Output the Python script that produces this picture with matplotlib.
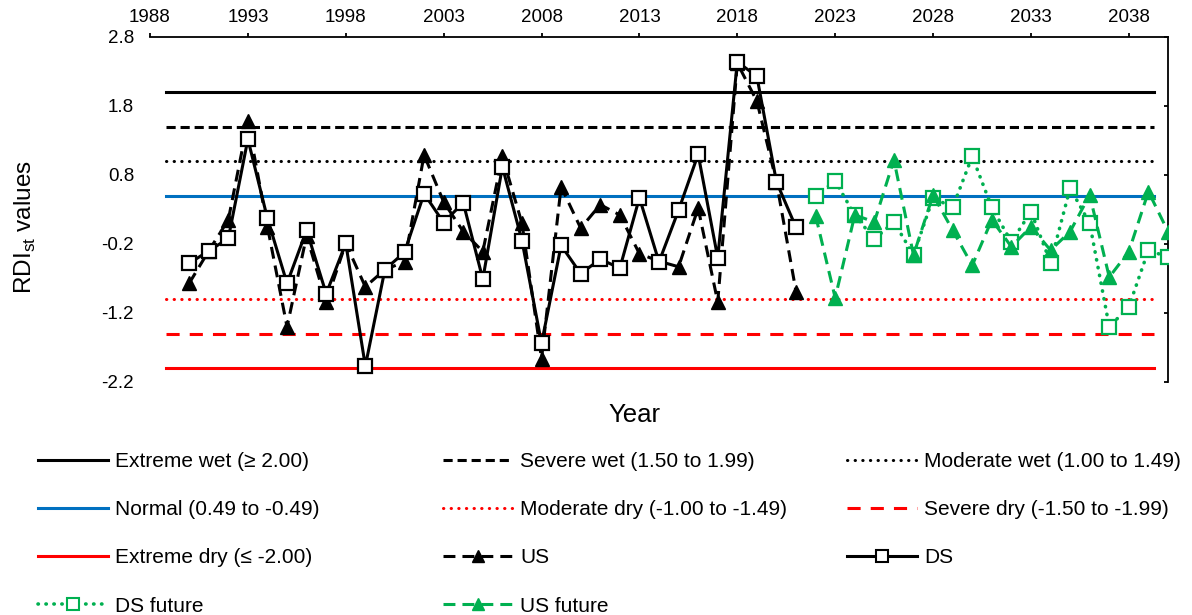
import matplotlib
matplotlib.use("Agg")
import matplotlib.pyplot as plt
from matplotlib.lines import Line2D

plt.rcParams['font.family'] = ['Liberation Sans', 'DejaVu Sans']

# ---------------- data ----------------
years_obs = list(range(1990, 2022))
ds = [-0.48, -0.30, -0.12, 1.32, 0.17, -0.77, 0.00, -0.92, -0.19, -1.97,
      -0.57, -0.32, 0.53, 0.11, 0.40, -0.71, 0.92, -0.15, -1.64, -0.22,
      -0.63, -0.42, -0.55, 0.47, -0.46, 0.29, 1.10, -0.40, 2.44, 2.23,
      0.70, 0.04]
us = [-0.77, -0.30, 0.15, 1.58, 0.05, -1.40, -0.08, -1.04, -0.19, -0.82,
      -0.57, -0.46, 1.09, 0.41, -0.02, -0.31, 1.07, 0.10, -1.86, 0.63,
      0.03, 0.37, 0.22, -0.34, -0.45, -0.53, 0.32, -1.04, 2.42, 1.87,
      0.70, -0.89]

years_fut = list(range(2022, 2041))
ds_future = [0.50, 0.71, 0.22, -0.13, 0.12, -0.36, 0.47, 0.33, 1.07, 0.33,
             -0.17, 0.27, -0.47, 0.61, 0.10, -1.40, -1.11, -0.29, -0.39]
us_future = [0.21, -0.98, 0.22, 0.12, 1.02, -0.36, 0.51, 0.00, -0.51, 0.15,
             -0.24, 0.05, -0.29, -0.02, 0.51, -0.68, -0.31, 0.56, -0.02]

# RDI class boundaries
class_labels = ["Extreme wet (\u2265 2.00)", "Severe wet (1.50 to 1.99)",
                "Moderate wet (1.00 to 1.49)", "Normal (0.49 to -0.49)",
                "Moderate dry (-1.00 to -1.49)", "Severe dry (-1.50 to -1.99)",
                "Extreme dry (\u2264 -2.00)"]
class_values = [2.0, 1.5, 1.0, 0.5, -1.0, -1.5, -2.0]
class_span = [1988.8, 2039.3]

x_ticks = list(range(1988, 2040, 5))
y_ticks = [2.8, 1.8, 0.8, -0.2, -1.2, -2.2]

# ---------------- styles ----------------
GREEN = "#00B050"
BLUE = "#0070C0"
RED = "#FF0000"
LW = 2.2
class_styles = [
    dict(color="black", linestyle="-"),
    dict(color="black", linestyle=(0, (3.0, 1.6))),
    dict(color="black", linestyle=(0, (0.1, 2.4)), dash_capstyle="round"),
    dict(color=BLUE, linestyle="-"),
    dict(color=RED, linestyle=(0, (0.1, 2.4)), dash_capstyle="round"),
    dict(color=RED, linestyle=(0, (4.3, 3.3))),
    dict(color=RED, linestyle="-"),
]

fig = plt.figure(figsize=(11.92, 6.15), dpi=100)
ax = fig.add_axes([150 / 1192, 1 - 382 / 615, 1018 / 1192, 345 / 615])

handles = {}
for lab, val, st in zip(class_labels, class_values, class_styles):
    h, = ax.plot(class_span, [val, val], lw=LW, label=lab, zorder=2, **st)
    handles[lab] = h

us_style = (0, (3.9, 2.3))
h_us, = ax.plot(years_obs, us, color="black", lw=LW, linestyle=us_style,
                marker="^", ms=10, mfc="black", mec="black", mew=1,
                label="US", zorder=3)
h_ds, = ax.plot(years_obs, ds, color="black", lw=LW, linestyle="-",
                marker="s", ms=9.5, mfc="white", mec="black", mew=1.6,
                label="DS", zorder=4)
h_dsf, = ax.plot(years_fut, ds_future, color=GREEN, lw=2.6,
                 linestyle=(0, (0.1, 2.1)), dash_capstyle="round",
                 marker="s", ms=9.5, mfc="white", mec=GREEN, mew=1.6,
                 label="DS future", zorder=5)
h_usf, = ax.plot(years_fut, us_future, color=GREEN, lw=LW, linestyle=us_style,
                 marker="^", ms=10, mfc=GREEN, mec=GREEN, mew=1,
                 label="US future", zorder=6)

# ---------------- axes ----------------
ax.set_xlim(1988, 2040)
ax.set_ylim(-2.2, 2.8)
ax.xaxis.tick_top()
ax.set_xticks(x_ticks)
ax.set_xticklabels([str(y) for y in x_ticks])
ax.set_yticks(y_ticks)
ax.set_yticklabels([f"{v:.1f}" for v in y_ticks])
ax.tick_params(axis="x", direction="out", length=3, width=1.3, pad=5,
               labelsize=13.5, top=True, bottom=False)
ax.tick_params(axis="y", direction="in", length=3, width=1.3, pad=11.5,
               labelsize=13.5, left=False, right=True, labelleft=True,
               labelright=False)
for side in ("left", "bottom"):
    ax.spines[side].set_visible(False)
for side in ("top", "right"):
    ax.spines[side].set_linewidth(1.3)

ax.set_ylabel("RDI$_\\mathregular{st}$ values", fontsize=17.5, va="center")
ax.yaxis.set_label_coords((25 - 150) / 1018, (382 - 227) / 345)
ax.text((634 - 150) / 1018, (382 - 415) / 345, "Year", fontsize=18.5,
        ha="center", va="center", transform=ax.transAxes)

# ---------------- legend (three columns, row-major order) ----------------
hl = Line2D([], [], color="black", lw=LW, linestyle=us_style,
            marker="^", ms=8, mfc="black", mec="black")
hlf = Line2D([], [], color=GREEN, lw=LW, linestyle=us_style,
             marker="^", ms=8, mfc=GREEN, mec=GREEN)
hd = Line2D([], [], color="black", lw=LW, marker="s", ms=8.5, mfc="white",
            mec="black", mew=1.5)
hdf = Line2D([], [], color=GREEN, lw=2.6, linestyle=(0, (0.1, 2.1)),
             dash_capstyle="round", marker="s", ms=8.5, mfc="white",
             mec=GREEN, mew=1.5)

columns = [
    ([handles[class_labels[0]], handles[class_labels[3]],
      handles[class_labels[6]], hdf],
     [class_labels[0], class_labels[3], class_labels[6], "DS future"], 38),
    ([handles[class_labels[1]], handles[class_labels[4]], hl, hlf],
     [class_labels[1], class_labels[4], "US", "US future"], 443),
    ([handles[class_labels[2]], handles[class_labels[5]], hd],
     [class_labels[2], class_labels[5], "DS"], 847),
]
for hs, labs, xpx in columns:
    fig.legend(hs, labs, loc="upper left",
               bbox_to_anchor=(xpx / 1192, 1 - 452 / 615),
               frameon=False, fontsize=15, handlelength=3.37,
               handletextpad=0.34, labelspacing=1.40, borderpad=0,
               borderaxespad=0)

fig.savefig("out.png", dpi=100)
